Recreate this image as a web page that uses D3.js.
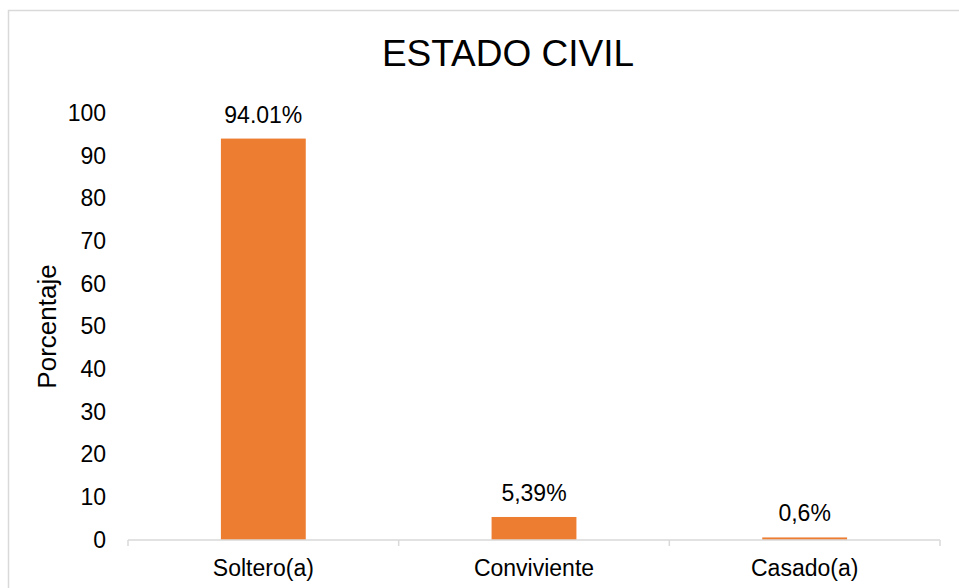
<!DOCTYPE html>
<html>
<head>
<meta charset="utf-8">
<script src="https://cdn.jsdelivr.net/npm/d3@7"></script>
<style>
  body { margin: 0; background: #fff; }
  svg text { font-family: "Liberation Sans", Arial, sans-serif; fill: #000; }
  .axis .domain { display: none; }
  .axis text { font-size: 23px; }
</style>
</head>
<body>
<svg id="chart"></svg>
<script>
var categories = ["Soltero(a)", "Conviviente", "Casado(a)"];
var values = [94.01, 5.39, 0.6];
var valueLabels = ["94.01%", "5,39%", "0,6%"];
var yTicks = [0, 10, 20, 30, 40, 50, 60, 70, 80, 90, 100];

var width = 959,
    height = 588;

var svg = d3.select("#chart")
            .attr("width", width)
            .attr("height", height);

// chart area border (only top/left visible in the reference)
svg.append("rect")
   .attr("x", 8.5).attr("y", 10.5)
   .attr("width", 1000).attr("height", 1000)
   .attr("fill", "none")
   .attr("stroke", "#d9d9d9")
   .attr("stroke-width", 1.5);

var x = d3.scaleBand()
          .domain(categories)
          .range([128, 940])
          .padding(0);

var y = d3.scaleLinear()
          .domain([0, 100])
          .range([540, 113]);

var barWidth = x.bandwidth() / 3.19;

svg.append("text")
   .attr("x", 508)
   .attr("y", 66)
   .attr("text-anchor", "middle")
   .style("font-size", "37px")
   .text("ESTADO CIVIL");

svg.append("g")
   .attr("class", "axis")
   .attr("transform", "translate(128,0)")
   .call(d3.axisLeft(y).tickValues(yTicks).tickSize(0).tickPadding(22));

svg.append("text")
   .attr("transform", "translate(56," + (y(50)) + ") rotate(-90)")
   .attr("text-anchor", "middle")
   .style("font-size", "26px")
   .text("Porcentaje");

svg.selectAll("rect.bar")
   .data(values)
   .enter().append("rect")
     .attr("class", "bar")
     .attr("x", function(d, i) { return x(categories[i]) + (x.bandwidth() - barWidth) / 2; })
     .attr("y", function(d) { return y(d); })
     .attr("width", barWidth)
     .attr("height", function(d) { return y(0) - y(d); })
     .attr("fill", "#ed7d31");

svg.selectAll("text.val")
   .data(values)
   .enter().append("text")
     .attr("class", "val")
     .attr("x", function(d, i) { return x(categories[i]) + x.bandwidth() / 2; })
     .attr("y", function(d) { return y(d) - 16; })
     .attr("text-anchor", "middle")
     .style("font-size", "23px")
     .text(function(d, i) { return valueLabels[i]; });

// x axis labels, then the axis line with ticks at the category boundaries
svg.append("g")
   .attr("class", "axis")
   .attr("transform", "translate(0,540)")
   .call(d3.axisBottom(x).tickSize(0).tickPadding(20));

var bounds = categories.map(function(c) { return x(c); }).concat([x.range()[1]]);
svg.append("line")
   .attr("x1", x.range()[0]).attr("x2", x.range()[1])
   .attr("y1", y(0)).attr("y2", y(0))
   .attr("stroke", "#d9d9d9").attr("stroke-width", 1.5);
svg.selectAll("line.tick")
   .data(bounds)
   .enter().append("line")
     .attr("class", "tick")
     .attr("x1", function(d) { return d; })
     .attr("x2", function(d) { return d; })
     .attr("y1", y(0))
     .attr("y2", y(0) + 6)
     .attr("stroke", "#d9d9d9").attr("stroke-width", 1.5);
</script>
</body>
</html>
